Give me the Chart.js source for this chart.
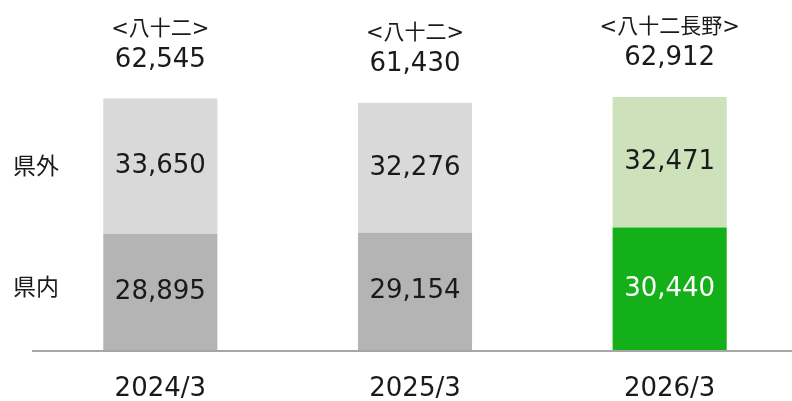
<!DOCTYPE html>
<html>
<head>
<meta charset="utf-8">
<script src="https://cdn.jsdelivr.net/npm/chart.js@4"></script>
<style>
html,body{margin:0;padding:0;background:#fff;overflow:hidden;width:792px;height:401px;}
#wrap{position:absolute;left:0;top:0;width:797px;height:401px;}
</style>
</head>
<body>
<div id="wrap"><canvas id="c" width="797" height="401"></canvas></div>
<script>
const categories = ['2024/3', '2025/3', '2026/3'];
const seriesNames = ['県内', '県外'];
const insideValues = [28895, 29154, 30440];
const outsideValues = [33650, 32276, 32471];
const totalValues = [62545, 61430, 62912];
const bankLabels = ['<八十二>', '<八十二>', '<八十二長野>'];

const insideColors = ['#b4b4b4', '#b4b4b4', '#13b01a'];
const outsideColors = ['#d9d9d9', '#d9d9d9', '#cde2bb'];
const insideTextColors = ['#1a1a1a', '#1a1a1a', '#ffffff'];

const NUM_FONT = '"DejaVu Sans", "Noto Sans CJK JP", sans-serif';
const JP_FONT = '"DejaVu Sans", "Noto Sans CJK JP", sans-serif';

const fmt = v => v.toLocaleString('en-US');

const labelPlugin = {
  id: 'labels',
  afterDatasetsDraw(chart) {
    const ctx = chart.ctx;
    const y = chart.scales.y;
    const area = chart.chartArea;
    ctx.save();
    // baseline
    ctx.strokeStyle = '#a6a6a6';
    ctx.lineWidth = 2;
    ctx.beginPath();
    ctx.moveTo(32, area.bottom + 1);
    ctx.lineTo(797, area.bottom + 1);
    ctx.stroke();

    ctx.textAlign = 'center';
    ctx.textBaseline = 'middle';
    const m0 = chart.getDatasetMeta(0);
    const m1 = chart.getDatasetMeta(1);
    categories.forEach((c, i) => {
      const b0 = m0.data[i];
      const b1 = m1.data[i];
      ctx.font = '26px ' + NUM_FONT;
      ctx.fillStyle = insideTextColors[i];
      ctx.fillText(fmt(insideValues[i]), b0.x, (b0.y + b0.base) / 2);
      ctx.fillStyle = '#1a1a1a';
      ctx.fillText(fmt(outsideValues[i]), b1.x, (b1.y + b1.base) / 2);
      const top = y.getPixelForValue(totalValues[i]);
      ctx.fillText(fmt(totalValues[i]), b1.x, top - 38.5);
      // category label under axis
      ctx.fillText(c, b0.x, area.bottom + 39);
      ctx.font = '21px ' + JP_FONT;
      ctx.fillText(bankLabels[i], b1.x, top - 69);
    });
    // series names at left
    ctx.textAlign = 'left';
    ctx.font = '23px "Noto Sans CJK JP", sans-serif';
    ctx.fillStyle = '#1a1a1a';
    const bi = m0.data[0], bo = m1.data[0];
    ctx.fillText(seriesNames[0], 13, (bi.y + bi.base) / 2 - 6);
    ctx.fillText(seriesNames[1], 13, (bo.y + bo.base) / 2 - 1);
    ctx.restore();
  }
};

new Chart(document.getElementById('c'), {
  type: 'bar',
  data: {
    labels: categories,
    datasets: [
      { label: seriesNames[0], data: insideValues, backgroundColor: insideColors, borderWidth: 0, categoryPercentage: 1, barPercentage: 0.448 },
      { label: seriesNames[1], data: outsideValues, backgroundColor: outsideColors, borderWidth: 0, categoryPercentage: 1, barPercentage: 0.448 }
    ]
  },
  options: {
    responsive: false,
    animation: false,
    devicePixelRatio: 1,
    layout: { padding: { left: 33, right: 0, top: 0, bottom: 51 } },
    plugins: { legend: { display: false }, tooltip: { enabled: false } },
    scales: {
      x: {
        stacked: true,
        display: false
      },
      y: {
        stacked: true,
        display: false,
        min: 0,
        max: 87000
      }
    }
  },
  plugins: [labelPlugin]
});
</script>
</body>
</html>
